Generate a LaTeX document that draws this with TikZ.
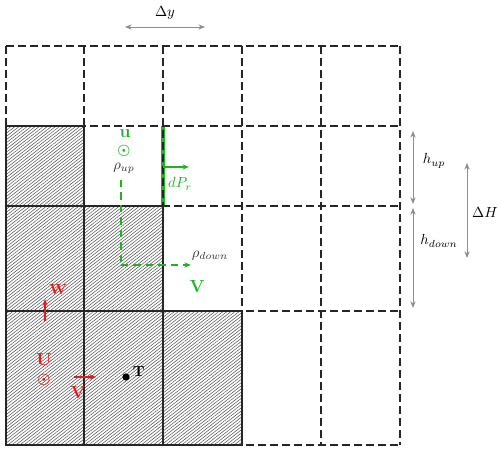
\documentclass[tikz,border=0pt]{standalone}
\usepackage{amsmath,amssymb}
\usepackage{xcolor}
\usepackage{tikz}
\usetikzlibrary{arrows.meta,patterns.meta}

\definecolor{flowgreen}{RGB}{30,180,30}
\definecolor{cellred}{RGB}{230,25,25}

\begin{document}
\begin{tikzpicture}[
      x=0.024cm, y=-0.024cm,
      gridline/.style={draw=black!85, dash pattern=on 5.4pt off 2.8pt, line width=1pt},
      hatched/.style={draw=black!85, line width=1pt,
                      pattern={Lines[angle=38,distance=1.7pt,line width=0.35pt]},
                      pattern color=black!70},
      dimline/.style={<->, draw=black!45, line width=0.6pt},
      gvec/.style={->, draw=flowgreen, line width=1.7pt},
      rvec/.style={->, draw=cellred, line width=1pt},
      >={Stealth[length=4.5pt,width=3.5pt]}]

    \useasboundingbox (0,0) rectangle (500,451);

    % face carrying the pressure force, drawn first so the grid dashes show on it
    \coordinate (fa) at (163,126);
    \coordinate (fb) at (163,206);
    \draw[flowgreen, line width=2.2pt] (fa) -- (fb);

    % dashed mesh
    \foreach \x in {6,84,163,242,321,400}
      \draw[gridline] (\x,46) -- (\x,445);
    \foreach \y in {46,126,206,311,445}
      \draw[gridline] (6,\y) -- (400,\y);

    % terrain cells
    \foreach \a/\b/\c/\d in {6/126/84/206, 6/206/84/311, 84/206/163/311,
                             6/311/84/445, 84/311/163/445, 163/311/242/445}
      \draw[hatched] (\a,\b) rectangle (\c,\d);

    % spacing markers
    \coordinate (dyl) at (125,27);
    \coordinate (dyr) at (205,27);
    \draw[dimline] (dyl) -- (dyr);
    \node (dy) at (165,13) {$\Delta y$};

    \coordinate (hua) at (413,131);
    \coordinate (hub) at (413,204);
    \coordinate (hda) at (413,208);
    \coordinate (hdb) at (413,308);
    \draw[dimline] (hua) -- (hub);
    \draw[dimline] (hda) -- (hdb);
    \node (hup) at (434,161) {$h_{up}$};
    \node (hdown) at (439,241) {$h_{down}$};

    \coordinate (dHa) at (467,163);
    \coordinate (dHb) at (467,258);
    \draw[dimline] (dHa) -- (dHb);
    \node (dH) at (485,212) {$\Delta H$};

    % staggered velocity points, upper cell
    \node[flowgreen, font=\large\bfseries, inner sep=0pt] (ulbl) at (125,134) {u};
    \node[flowgreen, inner sep=0pt] (upt) at (124,151) {$\boldsymbol{\odot}$};
    \node[black!80] (rhoup) at (124,168) {$\rho_{up}$};
    \coordinate (vtop) at (121,180);
    \coordinate (vcorner) at (121,265);
    \coordinate (vend) at (191,265);
    \draw[flowgreen, line width=1.7pt, dash pattern=on 5pt off 3.5pt] (vtop) -- (vcorner);
    \draw[->, flowgreen, line width=1.7pt, dash pattern=on 5pt off 3.5pt] (vcorner) -- (vend);
    \node[black!80] (rhodown) at (210,256) {$\rho_{down}$};
    \node[flowgreen, font=\large\bfseries] (vlbl) at (197,287) {V};

    \coordinate (fmid) at (163,167);
    \coordinate (ftip) at (189,167);
    \draw[gvec] (fmid) -- (ftip);
    \node[flowgreen] (dpr) at (180,184) {$dP_r$};

    % staggered velocity points, lower cells
    \node[cellred, font=\bfseries] (wlbl) at (58,290) {W};
    \coordinate (wa) at (45,321);
    \coordinate (wb) at (45,299);
    \draw[rvec] (wa) -- (wb);

    \node[cellred, font=\large\bfseries, inner sep=0pt] (Ulbl) at (44,360) {U};
    \node[cellred, inner sep=0pt] (Upt) at (44,380) {$\boldsymbol{\odot}$};

    \coordinate (va) at (74,377);
    \coordinate (vb) at (96,377);
    \draw[rvec] (va) -- (vb);
    \node[cellred, font=\large\bfseries] (Vlbl) at (78,393) {V};

    \node[circle, fill=black, inner sep=0pt, minimum size=5pt] (tpt) at (126,377) {};
    \node[font=\bfseries, anchor=west, inner sep=1pt] (tlbl) at (131,372) {T};
\end{tikzpicture}
\end{document}
